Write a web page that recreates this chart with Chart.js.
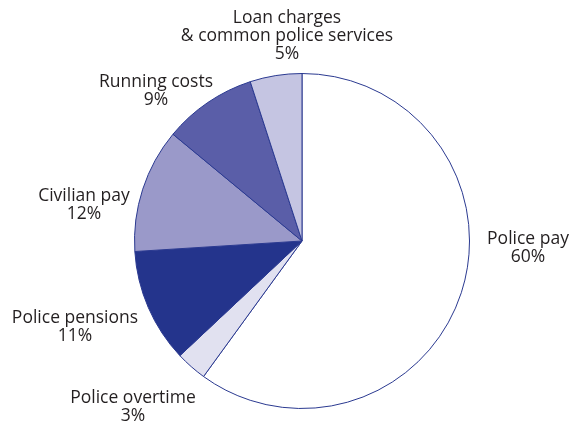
<!DOCTYPE html>
<html>
<head>
<meta charset="utf-8">
<script src="https://cdn.jsdelivr.net/npm/chart.js@4"></script>
<style>
  html, body { margin: 0; padding: 0; background: #fff; }
  #wrap { width: 570px; height: 426px; }
</style>
</head>
<body>
<div id="wrap"><canvas id="budgetPie" width="570" height="426"></canvas></div>
<script>
// ====== Data ======
const categories = ["Police pay", "Police overtime", "Police pensions", "Civilian pay", "Running costs", "Loan charges\n& common police services"];
const shares = [60, 3, 11, 12, 9, 5];
const sliceColors = ["#ffffff", "#e1e1f0", "#24348c", "#9a99c9", "#5a5ea8", "#c5c5e2"];

// where each label block sits (centre x, first baseline y)
const labelSpots = [
  [528, 244], [133, 403], [75, 323], [84, 201], [156, 87], [287, 23]
];

// ====== Label plugin ======
const sliceLabels = {
  id: "sliceLabels",
  afterDraw(chart) {
    const ctx = chart.ctx;
    ctx.save();
    ctx.font = "17.5px 'Open Sans'";
    ctx.fillStyle = "#231f20";
    ctx.textAlign = "center";
    ctx.textBaseline = "alphabetic";
    chart.data.labels.forEach((lbl, i) => {
      const lines = lbl.split("\n").concat([chart.data.datasets[0].data[i] + "%"]);
      const [x, y] = labelSpots[i];
      lines.forEach((t, k) => ctx.fillText(t, x, y + k * 18));
    });
    ctx.restore();
  }
};

// ====== Render Chart ======
new Chart(document.getElementById("budgetPie"), {
  type: "pie",
  data: {
    labels: categories,
    datasets: [{
      data: shares,
      backgroundColor: sliceColors,
      borderColor: "#2a3990",
      borderWidth: 1
    }]
  },
  options: {
    responsive: false,
    animation: false,
    layout: { padding: { top: 73, bottom: 17, left: 134, right: 100 } },
    plugins: { legend: { display: false }, tooltip: { enabled: false } }
  },
  plugins: [sliceLabels]
});
</script>
</body>
</html>
